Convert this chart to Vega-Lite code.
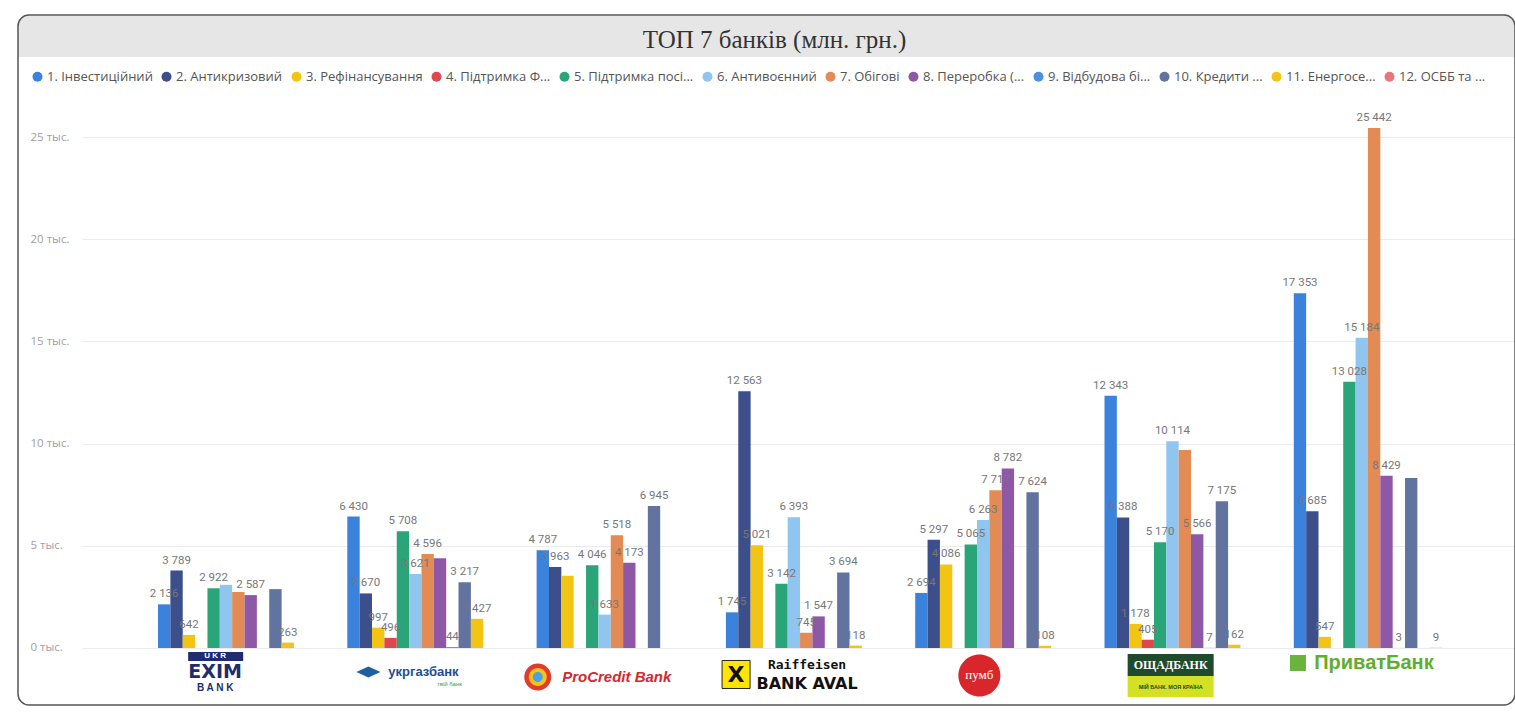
{
  "$schema": "https://vega.github.io/schema/vega-lite/v6.json",
  "width": 1497,
  "height": 690,
  "autosize": {"type": "none"},
  "padding": {"left": 18, "top": 15, "right": 0, "bottom": 11},
  "background": "white",
  "config": {
    "view": {"stroke": null},
    "locale": {"number": {"decimal": ",", "thousands": " ", "grouping": [3], "currency": ["", ""]}},
    "font": "Open Sans",
    "axisY": {"orient": "left", "offset": -64, "ticks": false, "domain": false, "labelPadding": 52, "labelAlign": "left", "labelBaseline": "middle", "labelFont": "Open Sans", "labelFontSize": 11.5, "labelColor": "#a0a0a0", "grid": true, "gridColor": "#ebebeb", "gridWidth": 1}
  },
  "datasets": {
    "loans": [
      {"bank": "Укрексімбанк", "series": "1. Інвестиційний", "value": 2136, "lbl": true},
      {"bank": "Укрексімбанк", "series": "2. Антикризовий", "value": 3789, "lbl": true},
      {"bank": "Укрексімбанк", "series": "3. Рефінансування", "value": 642, "lbl": true},
      {"bank": "Укрексімбанк", "series": "5. Підтримка посі...", "value": 2922, "lbl": true},
      {"bank": "Укрексімбанк", "series": "6. Антивоєнний", "value": 3090, "lbl": false},
      {"bank": "Укрексімбанк", "series": "7. Обігові", "value": 2740, "lbl": false},
      {"bank": "Укрексімбанк", "series": "8. Переробка (...", "value": 2587, "lbl": true},
      {"bank": "Укрексімбанк", "series": "10. Кредити ...", "value": 2880, "lbl": false},
      {"bank": "Укрексімбанк", "series": "11. Енергосе...", "value": 263, "lbl": true},
      {"bank": "Укргазбанк", "series": "1. Інвестиційний", "value": 6430, "lbl": true},
      {"bank": "Укргазбанк", "series": "2. Антикризовий", "value": 2670, "lbl": true},
      {"bank": "Укргазбанк", "series": "3. Рефінансування", "value": 997, "lbl": true},
      {"bank": "Укргазбанк", "series": "4. Підтримка Ф...", "value": 496, "lbl": true},
      {"bank": "Укргазбанк", "series": "5. Підтримка посі...", "value": 5708, "lbl": true},
      {"bank": "Укргазбанк", "series": "6. Антивоєнний", "value": 3621, "lbl": true},
      {"bank": "Укргазбанк", "series": "7. Обігові", "value": 4596, "lbl": true},
      {"bank": "Укргазбанк", "series": "8. Переробка (...", "value": 4390, "lbl": false},
      {"bank": "Укргазбанк", "series": "9. Відбудова бі...", "value": 44, "lbl": true},
      {"bank": "Укргазбанк", "series": "10. Кредити ...", "value": 3217, "lbl": true},
      {"bank": "Укргазбанк", "series": "11. Енергосе...", "value": 1427, "lbl": true},
      {"bank": "ПроКредит Банк", "series": "1. Інвестиційний", "value": 4787, "lbl": true},
      {"bank": "ПроКредит Банк", "series": "2. Антикризовий", "value": 3963, "lbl": true},
      {"bank": "ПроКредит Банк", "series": "3. Рефінансування", "value": 3540, "lbl": false},
      {"bank": "ПроКредит Банк", "series": "5. Підтримка посі...", "value": 4046, "lbl": true},
      {"bank": "ПроКредит Банк", "series": "6. Антивоєнний", "value": 1633, "lbl": true},
      {"bank": "ПроКредит Банк", "series": "7. Обігові", "value": 5518, "lbl": true},
      {"bank": "ПроКредит Банк", "series": "8. Переробка (...", "value": 4173, "lbl": true},
      {"bank": "ПроКредит Банк", "series": "10. Кредити ...", "value": 6945, "lbl": true},
      {"bank": "Райффайзен Банк Аваль", "series": "1. Інвестиційний", "value": 1745, "lbl": true},
      {"bank": "Райффайзен Банк Аваль", "series": "2. Антикризовий", "value": 12563, "lbl": true},
      {"bank": "Райффайзен Банк Аваль", "series": "3. Рефінансування", "value": 5021, "lbl": true},
      {"bank": "Райффайзен Банк Аваль", "series": "5. Підтримка посі...", "value": 3142, "lbl": true},
      {"bank": "Райффайзен Банк Аваль", "series": "6. Антивоєнний", "value": 6393, "lbl": true},
      {"bank": "Райффайзен Банк Аваль", "series": "7. Обігові", "value": 745, "lbl": true},
      {"bank": "Райффайзен Банк Аваль", "series": "8. Переробка (...", "value": 1547, "lbl": true},
      {"bank": "Райффайзен Банк Аваль", "series": "10. Кредити ...", "value": 3694, "lbl": true},
      {"bank": "Райффайзен Банк Аваль", "series": "11. Енергосе...", "value": 118, "lbl": true},
      {"bank": "ПУМБ", "series": "1. Інвестиційний", "value": 2694, "lbl": true},
      {"bank": "ПУМБ", "series": "2. Антикризовий", "value": 5297, "lbl": true},
      {"bank": "ПУМБ", "series": "3. Рефінансування", "value": 4086, "lbl": true},
      {"bank": "ПУМБ", "series": "5. Підтримка посі...", "value": 5065, "lbl": true},
      {"bank": "ПУМБ", "series": "6. Антивоєнний", "value": 6263, "lbl": true},
      {"bank": "ПУМБ", "series": "7. Обігові", "value": 7717, "lbl": true},
      {"bank": "ПУМБ", "series": "8. Переробка (...", "value": 8782, "lbl": true},
      {"bank": "ПУМБ", "series": "10. Кредити ...", "value": 7624, "lbl": true},
      {"bank": "ПУМБ", "series": "11. Енергосе...", "value": 108, "lbl": true},
      {"bank": "Ощадбанк", "series": "1. Інвестиційний", "value": 12343, "lbl": true},
      {"bank": "Ощадбанк", "series": "2. Антикризовий", "value": 6388, "lbl": true},
      {"bank": "Ощадбанк", "series": "3. Рефінансування", "value": 1178, "lbl": true},
      {"bank": "Ощадбанк", "series": "4. Підтримка Ф...", "value": 405, "lbl": true},
      {"bank": "Ощадбанк", "series": "5. Підтримка посі...", "value": 5170, "lbl": true},
      {"bank": "Ощадбанк", "series": "6. Антивоєнний", "value": 10114, "lbl": true},
      {"bank": "Ощадбанк", "series": "7. Обігові", "value": 9690, "lbl": false},
      {"bank": "Ощадбанк", "series": "8. Переробка (...", "value": 5566, "lbl": true},
      {"bank": "Ощадбанк", "series": "9. Відбудова бі...", "value": 7, "lbl": true},
      {"bank": "Ощадбанк", "series": "10. Кредити ...", "value": 7175, "lbl": true},
      {"bank": "Ощадбанк", "series": "11. Енергосе...", "value": 162, "lbl": true},
      {"bank": "ПриватБанк", "series": "1. Інвестиційний", "value": 17353, "lbl": true},
      {"bank": "ПриватБанк", "series": "2. Антикризовий", "value": 6685, "lbl": true},
      {"bank": "ПриватБанк", "series": "3. Рефінансування", "value": 547, "lbl": true},
      {"bank": "ПриватБанк", "series": "5. Підтримка посі...", "value": 13028, "lbl": true},
      {"bank": "ПриватБанк", "series": "6. Антивоєнний", "value": 15184, "lbl": true},
      {"bank": "ПриватБанк", "series": "7. Обігові", "value": 25442, "lbl": true},
      {"bank": "ПриватБанк", "series": "8. Переробка (...", "value": 8429, "lbl": true},
      {"bank": "ПриватБанк", "series": "9. Відбудова бі...", "value": 3, "lbl": true},
      {"bank": "ПриватБанк", "series": "10. Кредити ...", "value": 8320, "lbl": false},
      {"bank": "ПриватБанк", "series": "12. ОСББ та ...", "value": 9, "lbl": true}
    ],
    "banks": [
      {"bank": "Укрексімбанк", "a": "U K R", "b": "EXIM", "c": "B A N K"},
      {"bank": "Укргазбанк", "a": "укргазбанк", "b": "твій банк"},
      {"bank": "ПроКредит Банк", "a": "ProCredit Bank"},
      {"bank": "Райффайзен Банк Аваль", "a": "Raiffeisen", "b": "BANK AVAL", "c": "X"},
      {"bank": "ПУМБ", "a": "пумб"},
      {"bank": "Ощадбанк", "a": "ОЩАДБАНК", "b": "МІЙ БАНК. МОЯ КРАЇНА"},
      {"bank": "ПриватБанк", "a": "ПриватБанк"}
    ],
    "frame": [{"top": 30969, "bottom": -2789, "barTop": 30920, "barBottom": 28914, "titleY": 29843, "title": "ТОП 7 банків (млн. грн.)"}]
  },
  "layer": [
    {
      "data": {"name": "frame"},
      "mark": {"type": "rect", "color": "#e6e6e6", "cornerRadiusTopLeft": 11, "cornerRadiusTopRight": 11},
      "encoding": {
        "y": {"field": "barTop", "type": "quantitative", "scale": {"domain": [-2789, 30969], "nice": false, "zero": false}, "title": null, "axis": {"values": [0, 5000, 10000, 15000, 20000, 25000], "labelExpr": "datum.value/1000 + ' тыс.'"}},
        "y2": {"field": "barBottom"}
      }
    },
    {
      "data": {"name": "frame"},
      "mark": {"type": "text", "font": "Liberation Serif", "fontSize": 25, "color": "#333333", "dx": 8, "dy": 2, "baseline": "middle", "align": "center"},
      "encoding": {
        "y": {"field": "titleY", "type": "quantitative", "scale": {"domain": [-2789, 30969], "nice": false, "zero": false}, "title": null, "axis": {"values": [0, 5000, 10000, 15000, 20000, 25000], "labelExpr": "datum.value/1000 + ' тыс.'"}},
        "text": {"field": "title", "type": "nominal"}
      }
    },
    {
      "encoding": {
        "x": {"field": "bank", "type": "nominal", "sort": null,
              "scale": {"domain": ["Укрексімбанк", "Укргазбанк", "ПроКредит Банк", "Райффайзен Банк Аваль", "ПУМБ", "Ощадбанк", "ПриватБанк"], "paddingInner": 0.2166, "paddingOuter": 0.5624, "align": 0.6576},
              "axis": null}
      },
      "layer": [
        {
          "data": {"name": "loans"},
          "mark": {"type": "bar"},
          "encoding": {
            "xOffset": {"field": "series", "type": "nominal",
                  "scale": {"domain": ["1. Інвестиційний", "2. Антикризовий", "3. Рефінансування", "4. Підтримка Ф...", "5. Підтримка посі...", "6. Антивоєнний", "7. Обігові", "8. Переробка (...", "9. Відбудова бі...", "10. Кредити ...", "11. Енергосе...", "12. ОСББ та ..."], "paddingInner": 0, "paddingOuter": 0}},
            "y": {"field": "value", "type": "quantitative", "scale": {"domain": [-2789, 30969], "nice": false, "zero": false}, "title": null, "axis": {"values": [0, 5000, 10000, 15000, 20000, 25000], "labelExpr": "datum.value/1000 + ' тыс.'"}},
            "y2": {"datum": 0},
            "color": {"field": "series", "type": "nominal",
                  "scale": {"domain": ["1. Інвестиційний", "2. Антикризовий", "3. Рефінансування", "4. Підтримка Ф...", "5. Підтримка посі...", "6. Антивоєнний", "7. Обігові", "8. Переробка (...", "9. Відбудова бі...", "10. Кредити ...", "11. Енергосе...", "12. ОСББ та ..."],
                            "range": ["#3b82dc", "#3c4f8a", "#f2c514", "#e0474c", "#2aa57a", "#8fc5ee", "#e38b54", "#8e58a6", "#4d8fe0", "#62739f", "#f2c514", "#e87577"]},
                  "legend": {"orient": "none", "legendX": 13, "legendY": 55, "direction": "horizontal", "columns": 12, "title": null, "symbolType": "circle", "symbolSize": 100, "symbolStrokeWidth": 0, "labelFont": "Open Sans", "labelFontSize": 13, "labelColor": "#555555", "columnPadding": 7, "labelOffset": 3, "labelLimit": 400, "padding": 0}}
          }
        },
        {
          "data": {"name": "loans"},
          "transform": [{"filter": "datum.lbl"}],
          "mark": {"type": "text", "baseline": "bottom", "dy": -5, "font": "Roboto", "fontSize": 11.5, "color": "#777777"},
          "encoding": {
            "xOffset": {"field": "series", "type": "nominal",
                  "scale": {"domain": ["1. Інвестиційний", "2. Антикризовий", "3. Рефінансування", "4. Підтримка Ф...", "5. Підтримка посі...", "6. Антивоєнний", "7. Обігові", "8. Переробка (...", "9. Відбудова бі...", "10. Кредити ...", "11. Енергосе...", "12. ОСББ та ..."], "paddingInner": 0, "paddingOuter": 0}},
            "y": {"field": "value", "type": "quantitative", "scale": {"domain": [-2789, 30969], "nice": false, "zero": false}, "title": null, "axis": {"values": [0, 5000, 10000, 15000, 20000, 25000], "labelExpr": "datum.value/1000 + ' тыс.'"}},
            "text": {"field": "value", "type": "quantitative", "format": ","}
          }
        },
        {
          "data": {"name": "banks"},
          "layer": [
            {
              "transform": [{"filter": "datum.bank === 'Укрексімбанк'"}],
              "mark": {"type": "point", "shape": "M-1.467,-0.15H0.367V0.15H-1.467Z", "filled": true, "color": "#1f2d6e", "size": 3600, "opacity": 1},
              "encoding": {"y": {"datum": -416, "type": "quantitative", "scale": {"domain": [-2789, 30969], "nice": false, "zero": false}, "title": null, "axis": {"values": [0, 5000, 10000, 15000, 20000, 25000], "labelExpr": "datum.value/1000 + ' тыс.'"}}}
            },
            {
              "transform": [{"filter": "datum.bank === 'Укрексімбанк'"}],
              "mark": {"type": "text", "font": "Liberation Sans", "fontWeight": "bold", "fontSize": 8, "color": "#ffffff", "dx": -17, "baseline": "middle"},
              "encoding": {"y": {"datum": -416, "type": "quantitative", "scale": {"domain": [-2789, 30969], "nice": false, "zero": false}, "title": null, "axis": {"values": [0, 5000, 10000, 15000, 20000, 25000], "labelExpr": "datum.value/1000 + ' тыс.'"}}, "text": {"field": "a"}}
            },
            {
              "transform": [{"filter": "datum.bank === 'Укрексімбанк'"}],
              "mark": {"type": "text", "font": "DejaVu Sans", "fontWeight": "bold", "fontSize": 19, "color": "#1f2d6e", "dx": -17, "baseline": "middle"},
              "encoding": {"y": {"datum": -1174, "type": "quantitative", "scale": {"domain": [-2789, 30969], "nice": false, "zero": false}, "title": null, "axis": {"values": [0, 5000, 10000, 15000, 20000, 25000], "labelExpr": "datum.value/1000 + ' тыс.'"}}, "text": {"field": "b"}}
            },
            {
              "transform": [{"filter": "datum.bank === 'Укрексімбанк'"}],
              "mark": {"type": "text", "font": "Liberation Sans", "fontWeight": "bold", "fontSize": 10, "color": "#1f2d6e", "dx": -17, "baseline": "middle"},
              "encoding": {"y": {"datum": -1957, "type": "quantitative", "scale": {"domain": [-2789, 30969], "nice": false, "zero": false}, "title": null, "axis": {"values": [0, 5000, 10000, 15000, 20000, 25000], "labelExpr": "datum.value/1000 + ' тыс.'"}}, "text": {"field": "c"}}
            },
            {
              "transform": [{"filter": "datum.bank === 'Укргазбанк'"}],
              "mark": {"type": "point", "shape": "M-5.42,0L-4.42,-0.45L-3.42,0L-4.42,0.45Z", "filled": true, "color": "#1d5fa0", "size": 576, "opacity": 1},
              "encoding": {"y": {"datum": -1174, "type": "quantitative", "scale": {"domain": [-2789, 30969], "nice": false, "zero": false}, "title": null, "axis": {"values": [0, 5000, 10000, 15000, 20000, 25000], "labelExpr": "datum.value/1000 + ' тыс.'"}}}
            },
            {
              "transform": [{"filter": "datum.bank === 'Укргазбанк'"}],
              "mark": {"type": "text", "font": "Liberation Sans", "fontWeight": "bold", "fontSize": 13, "color": "#1d4e8f", "dx": 2, "baseline": "middle"},
              "encoding": {"y": {"datum": -1174, "type": "quantitative", "scale": {"domain": [-2789, 30969], "nice": false, "zero": false}, "title": null, "axis": {"values": [0, 5000, 10000, 15000, 20000, 25000], "labelExpr": "datum.value/1000 + ' тыс.'"}}, "text": {"field": "a"}}
            },
            {
              "transform": [{"filter": "datum.bank === 'Укргазбанк'"}],
              "mark": {"type": "text", "font": "Liberation Sans", "fontSize": 6, "color": "#3aa04a", "dx": 28, "baseline": "middle"},
              "encoding": {"y": {"datum": -1761, "type": "quantitative", "scale": {"domain": [-2789, 30969], "nice": false, "zero": false}, "title": null, "axis": {"values": [0, 5000, 10000, 15000, 20000, 25000], "labelExpr": "datum.value/1000 + ' тыс.'"}}, "text": {"field": "b"}}
            },
            {
              "transform": [{"filter": "datum.bank === 'ПроКредит Банк'"}],
              "mark": {"type": "point", "shape": "M-6.407,0A1,1,0,1,0,-4.407,0A1,1,0,1,0,-6.407,0Z", "filled": true, "color": "#e23b2e", "size": 729, "opacity": 1},
              "encoding": {"y": {"datum": -1419, "type": "quantitative", "scale": {"domain": [-2789, 30969], "nice": false, "zero": false}, "title": null, "axis": {"values": [0, 5000, 10000, 15000, 20000, 25000], "labelExpr": "datum.value/1000 + ' тыс.'"}}}
            },
            {
              "transform": [{"filter": "datum.bank === 'ПроКредит Банк'"}],
              "mark": {"type": "point", "shape": "M-9.111,0A1,1,0,1,0,-7.111,0A1,1,0,1,0,-9.111,0Z", "filled": true, "color": "#f6c21c", "size": 324, "opacity": 1},
              "encoding": {"y": {"datum": -1419, "type": "quantitative", "scale": {"domain": [-2789, 30969], "nice": false, "zero": false}, "title": null, "axis": {"values": [0, 5000, 10000, 15000, 20000, 25000], "labelExpr": "datum.value/1000 + ' тыс.'"}}}
            },
            {
              "transform": [{"filter": "datum.bank === 'ПроКредит Банк'"}],
              "mark": {"type": "point", "shape": "M-15.6,0A1,1,0,1,0,-13.6,0A1,1,0,1,0,-15.6,0Z", "filled": true, "color": "#4aa3df", "size": 100, "opacity": 1},
              "encoding": {"y": {"datum": -1419, "type": "quantitative", "scale": {"domain": [-2789, 30969], "nice": false, "zero": false}, "title": null, "axis": {"values": [0, 5000, 10000, 15000, 20000, 25000], "labelExpr": "datum.value/1000 + ' тыс.'"}}}
            },
            {
              "transform": [{"filter": "datum.bank === 'ПроКредит Банк'"}],
              "mark": {"type": "text", "font": "Liberation Sans", "fontWeight": "bold", "fontStyle": "italic", "fontSize": 15, "color": "#d12a2f", "dx": 6, "baseline": "middle"},
              "encoding": {"y": {"datum": -1419, "type": "quantitative", "scale": {"domain": [-2789, 30969], "nice": false, "zero": false}, "title": null, "axis": {"values": [0, 5000, 10000, 15000, 20000, 25000], "labelExpr": "datum.value/1000 + ' тыс.'"}}, "text": {"field": "a"}}
            },
            {
              "transform": [{"filter": "datum.bank === 'Райффайзен Банк Аваль'"}],
              "mark": {"type": "point", "shape": "M-5.57,-1H-3.57V1H-5.57Z", "filled": true, "color": "#ffe500", "stroke": "#222222", "strokeWidth": 1, "size": 784, "opacity": 1},
              "encoding": {"y": {"datum": -1296, "type": "quantitative", "scale": {"domain": [-2789, 30969], "nice": false, "zero": false}, "title": null, "axis": {"values": [0, 5000, 10000, 15000, 20000, 25000], "labelExpr": "datum.value/1000 + ' тыс.'"}}}
            },
            {
              "transform": [{"filter": "datum.bank === 'Райффайзен Банк Аваль'"}],
              "mark": {"type": "text", "font": "DejaVu Sans", "fontWeight": "bold", "fontSize": 22, "color": "#111111", "dx": -64, "dy": 1, "baseline": "middle"},
              "encoding": {"y": {"datum": -1296, "type": "quantitative", "scale": {"domain": [-2789, 30969], "nice": false, "zero": false}, "title": null, "axis": {"values": [0, 5000, 10000, 15000, 20000, 25000], "labelExpr": "datum.value/1000 + ' тыс.'"}}, "text": {"field": "c"}}
            },
            {
              "transform": [{"filter": "datum.bank === 'Райффайзен Банк Аваль'"}],
              "mark": {"type": "text", "font": "DejaVu Sans Mono", "fontWeight": "bold", "fontSize": 13, "color": "#111111", "dx": 7, "baseline": "middle"},
              "encoding": {"y": {"datum": -832, "type": "quantitative", "scale": {"domain": [-2789, 30969], "nice": false, "zero": false}, "title": null, "axis": {"values": [0, 5000, 10000, 15000, 20000, 25000], "labelExpr": "datum.value/1000 + ' тыс.'"}}, "text": {"field": "a"}}
            },
            {
              "transform": [{"filter": "datum.bank === 'Райффайзен Банк Аваль'"}],
              "mark": {"type": "text", "font": "DejaVu Sans", "fontWeight": "bold", "fontSize": 16, "color": "#111111", "dx": 7, "baseline": "middle"},
              "encoding": {"y": {"datum": -1761, "type": "quantitative", "scale": {"domain": [-2789, 30969], "nice": false, "zero": false}, "title": null, "axis": {"values": [0, 5000, 10000, 15000, 20000, 25000], "labelExpr": "datum.value/1000 + ' тыс.'"}}, "text": {"field": "b"}}
            },
            {
              "transform": [{"filter": "datum.bank === 'ПУМБ'"}],
              "mark": {"type": "point", "shape": "M-1.476,0A1,1,0,1,0,0.524,0A1,1,0,1,0,-1.476,0Z", "filled": true, "color": "#d8262b", "size": 1764, "opacity": 1},
              "encoding": {"y": {"datum": -1345, "type": "quantitative", "scale": {"domain": [-2789, 30969], "nice": false, "zero": false}, "title": null, "axis": {"values": [0, 5000, 10000, 15000, 20000, 25000], "labelExpr": "datum.value/1000 + ' тыс.'"}}}
            },
            {
              "transform": [{"filter": "datum.bank === 'ПУМБ'"}],
              "mark": {"type": "text", "font": "Liberation Serif", "fontSize": 13, "color": "#ffffff", "dx": -10, "baseline": "middle"},
              "encoding": {"y": {"datum": -1345, "type": "quantitative", "scale": {"domain": [-2789, 30969], "nice": false, "zero": false}, "title": null, "axis": {"values": [0, 5000, 10000, 15000, 20000, 25000], "labelExpr": "datum.value/1000 + ' тыс.'"}}, "text": {"field": "a"}}
            },
            {
              "transform": [{"filter": "datum.bank === 'Ощадбанк'"}],
              "mark": {"type": "point", "shape": "M-1.186,-0.256H0.814V0.256H-1.186Z", "filled": true, "color": "#1f4a2c", "size": 7396, "opacity": 1},
              "encoding": {"y": {"datum": -832, "type": "quantitative", "scale": {"domain": [-2789, 30969], "nice": false, "zero": false}, "title": null, "axis": {"values": [0, 5000, 10000, 15000, 20000, 25000], "labelExpr": "datum.value/1000 + ' тыс.'"}}}
            },
            {
              "transform": [{"filter": "datum.bank === 'Ощадбанк'"}],
              "mark": {"type": "point", "shape": "M-1.186,-0.244H0.814V0.244H-1.186Z", "filled": true, "color": "#d3e024", "size": 7396, "opacity": 1},
              "encoding": {"y": {"datum": -1884, "type": "quantitative", "scale": {"domain": [-2789, 30969], "nice": false, "zero": false}, "title": null, "axis": {"values": [0, 5000, 10000, 15000, 20000, 25000], "labelExpr": "datum.value/1000 + ' тыс.'"}}}
            },
            {
              "transform": [{"filter": "datum.bank === 'Ощадбанк'"}],
              "mark": {"type": "text", "font": "Liberation Serif", "fontWeight": "bold", "fontSize": 12, "color": "#ffffff", "dx": -8, "baseline": "middle"},
              "encoding": {"y": {"datum": -832, "type": "quantitative", "scale": {"domain": [-2789, 30969], "nice": false, "zero": false}, "title": null, "axis": {"values": [0, 5000, 10000, 15000, 20000, 25000], "labelExpr": "datum.value/1000 + ' тыс.'"}}, "text": {"field": "a"}}
            },
            {
              "transform": [{"filter": "datum.bank === 'Ощадбанк'"}],
              "mark": {"type": "text", "font": "Liberation Sans", "fontWeight": "bold", "fontSize": 5.5, "color": "#1f4a2c", "dx": -8, "baseline": "middle"},
              "encoding": {"y": {"datum": -1884, "type": "quantitative", "scale": {"domain": [-2789, 30969], "nice": false, "zero": false}, "title": null, "axis": {"values": [0, 5000, 10000, 15000, 20000, 25000], "labelExpr": "datum.value/1000 + ' тыс.'"}}, "text": {"field": "b"}}
            },
            {
              "transform": [{"filter": "datum.bank === 'ПриватБанк'"}],
              "mark": {"type": "point", "shape": "M-9.75,-1H-7.75V1H-9.75Z", "filled": true, "color": "#6cb33e", "size": 256, "opacity": 1},
              "encoding": {"y": {"datum": -734, "type": "quantitative", "scale": {"domain": [-2789, 30969], "nice": false, "zero": false}, "title": null, "axis": {"values": [0, 5000, 10000, 15000, 20000, 25000], "labelExpr": "datum.value/1000 + ' тыс.'"}}}
            },
            {
              "transform": [{"filter": "datum.bank === 'ПриватБанк'"}],
              "mark": {"type": "text", "font": "Liberation Sans", "fontWeight": "bold", "fontSize": 20, "color": "#62ad2f", "dx": 6, "baseline": "middle"},
              "encoding": {"y": {"datum": -734, "type": "quantitative", "scale": {"domain": [-2789, 30969], "nice": false, "zero": false}, "title": null, "axis": {"values": [0, 5000, 10000, 15000, 20000, 25000], "labelExpr": "datum.value/1000 + ' тыс.'"}}, "text": {"field": "a"}}
            }
          ]
        }
      ]
    },
    {
      "data": {"name": "frame"},
      "mark": {"type": "rect", "fill": "transparent", "stroke": "#555555", "strokeWidth": 1.5, "cornerRadius": 11},
      "encoding": {
        "y": {"field": "top", "type": "quantitative", "scale": {"domain": [-2789, 30969], "nice": false, "zero": false}, "title": null, "axis": {"values": [0, 5000, 10000, 15000, 20000, 25000], "labelExpr": "datum.value/1000 + ' тыс.'"}},
        "y2": {"field": "bottom"}
      }
    }
  ]
}
